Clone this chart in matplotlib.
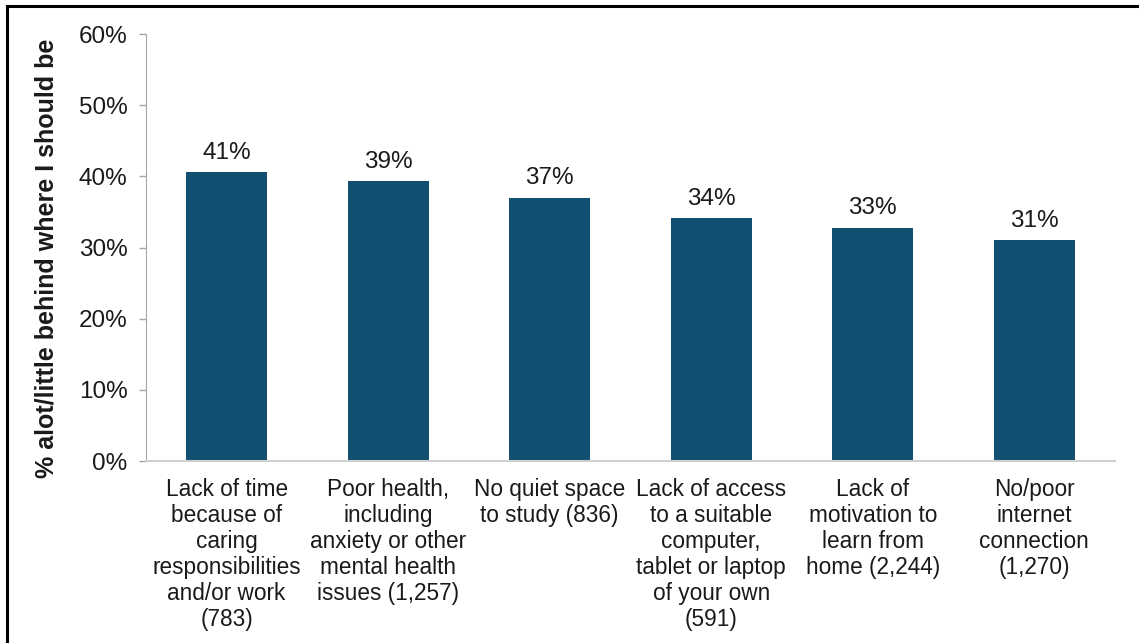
import matplotlib.pyplot as plt
from matplotlib.lines import Line2D

plt.rcParams['font.family'] = ['Liberation Sans', 'DejaVu Sans']

# Reasons for falling behind, with number of respondents
reasons = [
    "Lack of time\nbecause of\ncaring\nresponsibilities\nand/or work\n(783)",
    "Poor health,\nincluding\nanxiety or other\nmental health\nissues (1,257)",
    "No quiet space\nto study (836)",
    "Lack of access\nto a suitable\ncomputer,\ntablet or laptop\nof your own\n(591)",
    "Lack of\nmotivation to\nlearn from\nhome (2,244)",
    "No/poor\ninternet\nconnection\n(1,270)",
]
pct_behind = [40.6, 39.3, 37.0, 34.1, 32.8, 31.0]
y_ticks = [0, 10, 20, 30, 40, 50, 60]

bar_color = "#124E70"
text_color = "#1a1a1a"

fig = plt.figure(figsize=(11.39, 6.43), dpi=100)
ax = fig.add_axes([0.128, 0.283, 0.851, 0.664])

x = range(len(reasons))
ax.bar(x, pct_behind, width=0.5, color=bar_color)

for xi, v in zip(x, pct_behind):
    ax.annotate(f"{v:.0f}%", (xi, v), xytext=(0, 6), textcoords="offset points",
                ha="center", va="bottom", fontsize=17.5, color=text_color)

ax.set_xlim(-0.5, len(reasons) - 0.5)
ax.set_ylim(0, 60)
ax.set_yticks(y_ticks)
ax.set_yticklabels([f"{t}%" for t in y_ticks])
ax.set_xticks(list(x))
ax.set_xticklabels(reasons, linespacing=1.17)

ax.tick_params(axis="y", length=5, width=1, color="#A6A6A6", pad=8,
               labelsize=17.5, labelcolor=text_color)
ax.tick_params(axis="x", length=0, pad=12, labelsize=16.3, labelcolor=text_color)

for side in ("top", "right"):
    ax.spines[side].set_visible(False)
ax.spines["left"].set_color("#A6A6A6")
ax.spines["bottom"].set_color("#D0D0D0")
ax.spines["bottom"].set_linewidth(1.5)

ax.set_ylabel("% alot/little behind where I should be", fontsize=18,
              fontweight="bold", color=text_color)
ax.yaxis.set_label_coords(-0.09, 0.475)

# frame along the top and left edges
fig.add_artist(Line2D([7 / 1139, 7 / 1139], [0, 1 - 6 / 643], transform=fig.transFigure,
                      color="black", linewidth=2.2))
fig.add_artist(Line2D([7 / 1139, 1], [1 - 6 / 643, 1 - 6 / 643], transform=fig.transFigure,
                      color="black", linewidth=2.2))

fig.savefig("out.png", dpi=100)
